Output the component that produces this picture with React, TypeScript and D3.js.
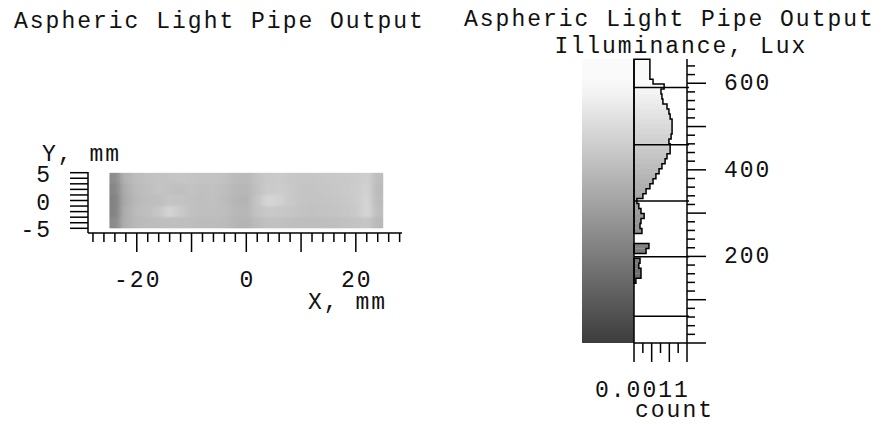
import * as d3 from 'd3';

const mapTitle = 'Aspheric Light Pipe Output';
const histTitle = 'Aspheric Light Pipe Output';
const histSubtitle = 'Illuminance, Lux';
const xAxisLabel = 'X, mm';
const yAxisLabel = 'Y, mm';
const countLabel = 'count';
const countMaxLabel = '0.0011';

const xTickLabels = [-20, 0, 20];
const yTickLabels = [5, 0, -5];
const luxTickLabels = [200, 400, 600];
const luxGuides = [590, 458, 328, 199, 62];

// illuminance (lux) on 2 mm cells: rows from y=+5 down to y=-5, columns from x=-25 to x=+25
const gridRows = [
  [255, 375, 410, 420, 425, 430, 435, 430, 425, 425, 420, 400, 395, 425, 445, 450, 440, 435, 435, 440, 445, 445, 450, 465, 410],
  [235, 360, 400, 415, 430, 420, 415, 425, 415, 420, 410, 390, 385, 420, 450, 455, 445, 430, 430, 435, 440, 445, 455, 475, 400],
  [220, 355, 395, 410, 415, 430, 425, 420, 415, 420, 405, 385, 380, 430, 485, 470, 445, 430, 425, 430, 435, 440, 450, 480, 405],
  [225, 360, 405, 415, 435, 480, 445, 420, 415, 415, 410, 390, 385, 425, 445, 440, 435, 425, 420, 425, 430, 435, 445, 485, 410],
  [245, 365, 395, 405, 410, 415, 415, 410, 405, 405, 400, 385, 380, 405, 420, 420, 415, 410, 410, 415, 415, 420, 425, 435, 395],
];

// histogram of illuminance, 11.5 lux bins starting at 0
const binWidth = 11.5;
const binCounts = [
  0, 0, 0, 0, 0, 0, 0, 0, 0, 0, 0, 0,
  0.00004, 0.000145, 0.000145, 0.0001, 0.000125, 0, 0.00025, 0.00031, 0, 0,
  0.000165, 0.000125, 0.000145, 0.00021, 0.000145, 0.0001, 0.00006, 0.000185, 0.00025, 0.00033,
  0.000395, 0.000455, 0.00052, 0.00058, 0.000645, 0.000685, 0.00075, 0.00075, 0.000725, 0.00077,
  0.00079, 0.00079, 0.00079, 0.00075, 0.000725, 0.000685, 0.0006, 0.00058, 0.00056, 0.000625,
  0.000395, 0.00033, 0.00033, 0.00033, 0.00033,
];

const font = "'Liberation Mono', 'Courier New', monospace";

export default function App() {
  const W = 886, H = 424;

  const x = d3.scaleLinear().domain([-25, 25]).range([109.4, 383.2]);
  const y = d3.scaleLinear().domain([-5, 5]).range([228.3, 172.7]);
  const lux = d3.scaleLinear().domain([0, 656]).range([343, 59]);
  const cnt = d3.scaleLinear().domain([0, 0.0011]).range([634, 687]);
  const gray = d3.scaleLinear<string>().domain([0, 600]).range(['#3c3c3c', '#fafafa']).clamp(true);

  const nCols = gridRows[0].length, nRows = gridRows.length;
  const cw = (x(25) - x(-25)) / nCols;
  const ch = (y(-5) - y(5)) / nRows;
  const cells = gridRows.flatMap((row, r) => row.map((v, c) => ({ r, c, v })));

  const axisX = 88, axisY = 233;
  const xTicks = d3.range(-28, 29, 2);
  const yTicks = d3.range(-5, 6, 1);
  const luxTicks = d3.range(0, 641, 20);
  const cntTicks = d3.range(0, 7).map(i => (0.0011 * i) / 6);

  // outline of the histogram, one closed path per contiguous run of bins
  const bins = binCounts.map((c, i) => ({ lo: i * binWidth, hi: (i + 1) * binWidth, c }));
  const runs: typeof bins[] = [];
  let cur: typeof bins = [];
  for (let i = bins.length - 1; i >= 0; i--) {
    if (bins[i].c > 0) cur.push(bins[i]);
    else if (cur.length) { runs.push(cur); cur = []; }
  }
  if (cur.length) runs.push(cur);
  const outline = runs.map(run => {
    let d = `M${cnt(0)},${lux(run[0].hi)}`;
    run.forEach(b => { d += `H${cnt(b.c)}V${lux(b.lo)}`; });
    return d + `H${cnt(0)}Z`;
  }).join('');

  const gradStops = d3.range(0, 657, 41).map(v => ({ off: v / 656, col: gray(v) }));

  return (
    <svg width={W} height={H} style={{ position: 'absolute', left: 0, top: 0, background: '#fff' }}
      fontFamily={font} fontSize={23} letterSpacing={2} fill="#111">
      <defs>
        <clipPath id="mapClip">
          <rect x={x(-25)} y={y(5)} width={x(25) - x(-25)} height={y(-5) - y(5)} />
        </clipPath>
        <filter id="soft" x="-5%" y="-20%" width="110%" height="140%">
          <feGaussianBlur stdDeviation="3 1.2" />
        </filter>
        <linearGradient id="bar" x1="0" y1="1" x2="0" y2="0">
          {gradStops.map((s, i) => <stop key={i} offset={s.off} stopColor={s.col} />)}
        </linearGradient>
      </defs>

      {/* left: illuminance map */}
      <text x={14} y={28}>{mapTitle}</text>
      <g clipPath="url(#mapClip)">
        {cells.map(d => (
          <rect key={`a${d.r}-${d.c}`} x={x(-25) + d.c * cw} y={y(5) + d.r * ch} width={cw + 0.5} height={ch + 0.5} fill={gray(d.v)} />
        ))}
        <g filter="url(#soft)">
          {cells.map(d => (
            <rect key={`b${d.r}-${d.c}`} x={x(-25) + d.c * cw} y={y(5) + d.r * ch} width={cw + 0.5} height={ch + 0.5} fill={gray(d.v)} />
          ))}
        </g>
      </g>

      <g stroke="#000" strokeWidth={1.5}>
        <line x1={axisX} x2={axisX} y1={172} y2={axisY} />
        <line x1={axisX} x2={402} y1={axisY} y2={axisY} />
        {yTicks.map(t => <line key={t} x1={70} x2={axisX} y1={y(t)} y2={y(t)} />)}
        {xTicks.map(t => <line key={t} x1={x(t)} x2={x(t)} y1={axisY} y2={axisY + (t % 10 === 0 ? 19 : 9)} />)}
      </g>
      <text x={42} y={161}>{yAxisLabel}</text>
      {yTickLabels.map(t => (
        <text key={t} x={52} y={y(t) + 3} textAnchor="end" dominantBaseline="central">{t}</text>
      ))}
      {xTickLabels.map(t => (
        <text key={t} x={x(t) + 1} y={287} textAnchor="middle">{t}</text>
      ))}
      <text x={308} y={309}>{xAxisLabel}</text>

      {/* right: colour bar and histogram */}
      <text x={464} y={26}>{histTitle}</text>
      <text x={681} y={53} textAnchor="middle">{histSubtitle}</text>
      <rect x={582} y={lux(656)} width={52} height={lux(0) - lux(656)} fill="url(#bar)" />

      {bins.filter(b => b.c > 0).map((b, i) => (
        <rect key={i} x={cnt(0)} y={lux(b.hi)} width={cnt(b.c) - cnt(0)} height={lux(b.lo) - lux(b.hi) + 0.3}
          fill={gray((b.lo + b.hi) / 2)} />
      ))}
      <path d={outline} fill="none" stroke="#000" strokeWidth={1.5} />

      <g stroke="#000" strokeWidth={1.5}>
        {luxGuides.map(v => <line key={v} x1={cnt(0)} x2={cnt(0.0011) + 2} y1={lux(v)} y2={lux(v)} />)}
        <line x1={cnt(0)} x2={cnt(0)} y1={lux(656)} y2={lux(0)} />
        <line x1={cnt(0.0011)} x2={cnt(0.0011)} y1={lux(656)} y2={lux(0)} />
        <line x1={cnt(0)} x2={cnt(0.0011)} y1={lux(0)} y2={lux(0)} />
        {luxTicks.map(t => (
          <line key={t} x1={cnt(0.0011)} x2={cnt(0.0011) + (t % 100 === 0 ? 19 : 8)} y1={lux(t)} y2={lux(t)} />
        ))}
        {cntTicks.map((t, i) => (
          <line key={i} x1={cnt(t)} x2={cnt(t)} y1={lux(0)} y2={lux(0) + (i % 2 === 0 ? 19 : 10)} />
        ))}
      </g>
      {luxTickLabels.map(t => (
        <text key={t} x={724} y={lux(t) + 1} dominantBaseline="central">{t}</text>
      ))}
      <text x={595} y={397}>{countMaxLabel}</text>
      <text x={635} y={417}>{countLabel}</text>
    </svg>
  );
}
